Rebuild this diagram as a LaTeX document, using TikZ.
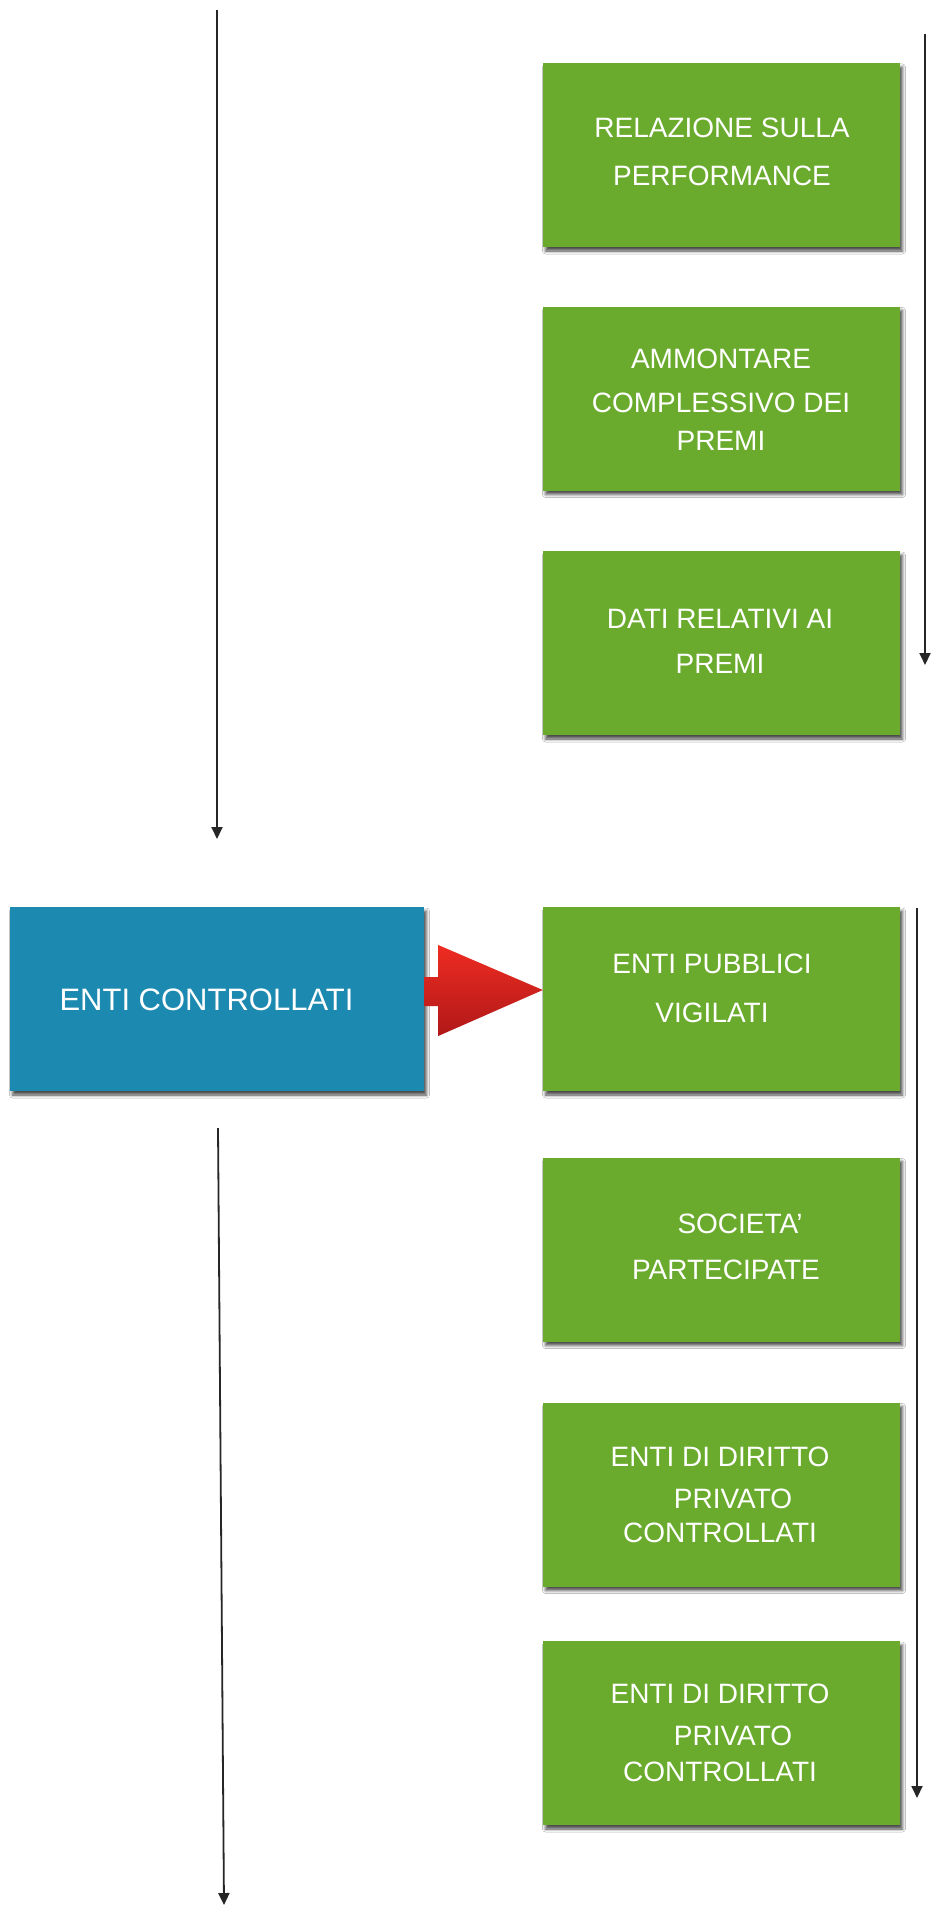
\documentclass[tikz,border=0pt]{standalone}
\usepackage{fontspec}
\setmainfont{Liberation Sans}
\usetikzlibrary{arrows.meta,calc,shadows.blur}

\definecolor{boxgreen}{RGB}{106,171,46}
\definecolor{boxblue}{RGB}{28,137,176}
\definecolor{arrowtop}{RGB}{238,44,34}
\definecolor{arrowbot}{RGB}{176,24,24}
\definecolor{lineink}{RGB}{38,38,38}

\tikzset{
  card/.style={rectangle, minimum width=357pt, minimum height=184pt, inner sep=0pt,
    fill=boxgreen,
    blur shadow={shadow xshift=2.5pt, shadow yshift=-4pt, shadow blur radius=3pt, shadow opacity=70}},
  bluecard/.style={card, fill=boxblue, minimum width=414pt},
  cardtext/.style={text=white, align=center, inner sep=0pt, font=\fontsize{28}{34}\selectfont},
  bigtext/.style={cardtext, font=\fontsize{31}{36}\selectfont},
  flow/.style={draw=lineink, line width=1.8pt, -{Triangle[width=11pt,length=12pt]}},
}

\begin{document}
\begin{tikzpicture}[x=1pt, y=-1pt]
  \useasboundingbox (0,0) rectangle (930,1910);
  \fill[white] (0,0) rectangle (930,1910);

  % boxes
  \node[card] (g1) at (721.5,155) {};
  \node[card] (g2) at (721.5,398.5) {};
  \node[card] (g3) at (721.5,643) {};
  \node[bluecard] (ec) at (217,999) {};
  \node[card] (g4) at (721.5,999) {};
  \node[card] (g5) at (721.5,1249.5) {};
  \node[card] (g6) at (721.5,1494.5) {};
  \node[card] (g7) at (721.5,1733) {};

  % captions
  \node[cardtext] (t1) at (722,152) {RELAZIONE SULLA\\[14pt]PERFORMANCE};
  \node[cardtext] (t2) at (721,400) {AMMONTARE\\[10pt]COMPLESSIVO DEI\\[4pt]PREMI};
  \node[cardtext] (t3) at (720,641) {DATI RELATIVI AI\\[11pt]PREMI};
  \node[cardtext] (t4) at (712,988) {ENTI PUBBLICI\\[15pt]VIGILATI};
  \node[cardtext] (t5) at (726,1247) {\hspace*{28pt}SOCIETA’\\[12pt]PARTECIPATE};
  \node[cardtext] (t6) at (720,1495) {ENTI DI DIRITTO\\[8pt]\hspace*{26pt}PRIVATO\\[0pt]CONTROLLATI};
  \node[cardtext] (t7) at (720,1733) {ENTI DI DIRITTO\\[8pt]\hspace*{26pt}PRIVATO\\[2pt]CONTROLLATI};
  \node[bigtext] (tec) at (206.5,1000) {ENTI CONTROLLATI};

  % red block arrow from the blue box to the first green box
  \shade[top color=arrowtop, bottom color=arrowbot]
    ($(ec.east)+(0,-22)$) -- ($(ec.east)+(14,-22)$) -- ($(ec.east)+(14,-54)$)
    -- ($(g4.west)+(0,-9)$)
    -- ($(ec.east)+(14,37)$) -- ($(ec.east)+(14,7)$) -- ($(ec.east)+(0,7)$) -- cycle;

  % vertical flow lines
  \coordinate (l1s) at (217,10);    \coordinate (l1e) at (217,839);
  \coordinate (r1s) at (925,34);    \coordinate (r1e) at (925,665);
  \coordinate (l2s) at (218,1128);  \coordinate (l2e) at (224,1905);
  \coordinate (r2s) at (917,908);   \coordinate (r2e) at (917,1798);
  \draw[flow] (l1s) -- (l1e);
  \draw[flow] (r1s) -- (r1e);
  \draw[flow] (l2s) -- (l2e);
  \draw[flow] (r2s) -- (r2e);
\end{tikzpicture}
\end{document}
